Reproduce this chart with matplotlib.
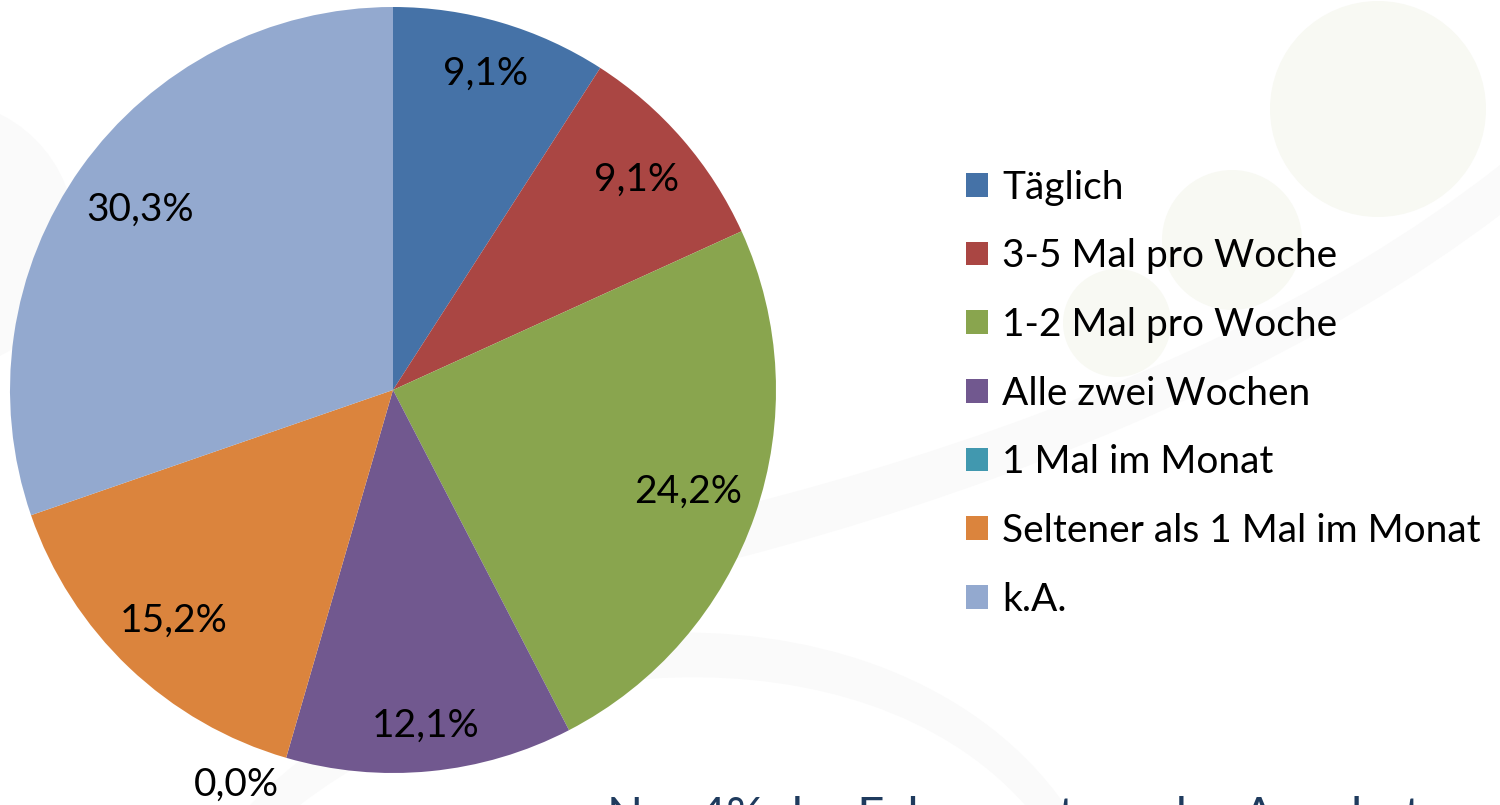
import numpy as np
import matplotlib.pyplot as plt
from matplotlib.patches import Circle, PathPatch
from matplotlib.path import Path

# Daten
kategorien = ["Täglich", "3-5 Mal pro Woche", "1-2 Mal pro Woche", "Alle zwei Wochen",
              "1 Mal im Monat", "Seltener als 1 Mal im Monat", "k.A."]
anteile = [9.1, 9.1, 24.2, 12.1, 0.0, 15.2, 30.3]
farben = ["#4572A7", "#AA4643", "#89A54E", "#71588F", "#4198AF", "#DB843D", "#93A9CF"]
fusszeile = "Nur 4% der Fahrer nutzen das Angebot monatlich"

# Abstand der Prozentbeschriftung vom Mittelpunkt (Anteil am Radius)
label_abstand = [0.86, 0.84, 0.815, 0.88, 1.0, 0.83, 0.81]

plt.rcParams['font.family'] = ['Lato', 'DejaVu Sans']

W, H = 1500, 805
fig = plt.figure(figsize=(W / 100, H / 100), dpi=100)

# Hintergrund-Dekoration (Pixelkoordinaten)
bg = fig.add_axes([0, 0, 1, 1])
bg.set_xlim(0, W)
bg.set_ylim(H, 0)
bg.axis('off')
for (kx, ky, kr) in [(1378, 109, 108), (1232, 240, 70), (1117, 323, 54)]:
    bg.add_patch(Circle((kx, ky), kr, color="#F8F9F3", lw=0))
bg.add_patch(Circle((-60, 235), 135, color="#FAFAFA", lw=0))
C = [Path.MOVETO, Path.CURVE4, Path.CURVE4, Path.CURVE4,
     Path.LINETO, Path.CURVE4, Path.CURVE4, Path.CURVE4, Path.CLOSEPOLY]
band1 = Path([(200, 600), (600, 560), (1150, 440), (1500, 165),
              (1500, 215), (1150, 480), (600, 620), (200, 650), (200, 600)], C)
bg.add_patch(PathPatch(band1, fc="#FAFAFA", ec="none"))
band2 = Path([(250, 805), (470, 580), (900, 570), (1065, 805),
              (1025, 805), (860, 620), (500, 650), (300, 805), (250, 805)], C)
bg.add_patch(PathPatch(band2, fc="#FAFAFA", ec="none"))

# Kreisdiagramm
cx, cy, r = 393, 390, 383
ax = fig.add_axes([(cx - r) / W, (H - cy - r) / H, 2 * r / W, 2 * r / H])
wedges, texte, pct = ax.pie(anteile, colors=farben, startangle=90, counterclock=False,
                            autopct=lambda p: f"{p:.1f}%".replace(".", ","),
                            pctdistance=0.83, radius=1.0,
                            wedgeprops=dict(linewidth=0),
                            textprops=dict(fontsize=28, color="black"))
ax.set_xlim(-1, 1)
ax.set_ylim(-1, 1)
ax.set_aspect('auto')

for w, t, v, d in zip(wedges, pct, anteile, label_abstand):
    if v == 0:
        # 0,0% steht außerhalb des Kreises
        t.set_position((-0.41, -1.03))
        continue
    mitte = np.deg2rad((w.theta1 + w.theta2) / 2)
    t.set_position((d * np.cos(mitte), d * np.sin(mitte)))

# Legende
fig.legend(wedges, kategorien, loc='upper left', bbox_to_anchor=(950 / W, 1 - 154 / H),
           frameon=False, fontsize=28, handlelength=0.57, handleheight=0.57,
           handletextpad=0.38, labelspacing=0.84, borderaxespad=0)

# Fußzeile, unten abgeschnitten wie im Original
fig.text(607 / W, 1 - 830 / H, fusszeile, fontsize=34, color="#1F3B5E", va='baseline')

fig.savefig("out.png", dpi=100)
